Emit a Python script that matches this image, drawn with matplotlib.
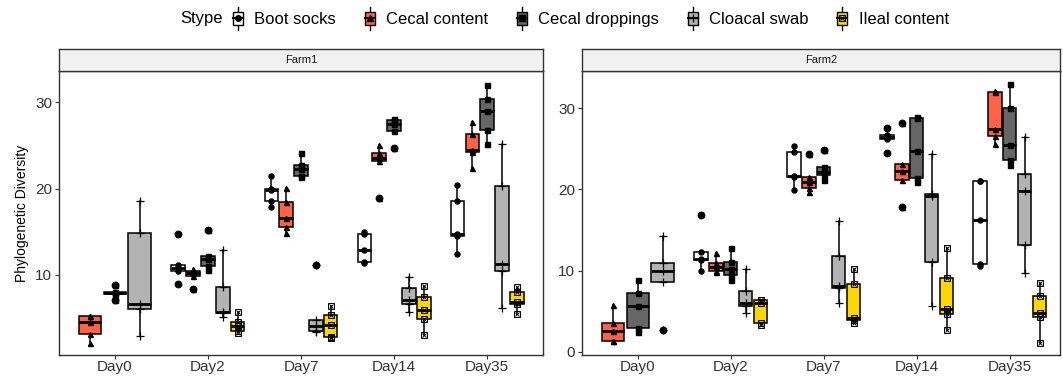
import matplotlib
matplotlib.use('Agg')
import matplotlib.pyplot as plt
from matplotlib.legend_handler import HandlerBase
from matplotlib.patches import Patch, Rectangle
from matplotlib.lines import Line2D

plt.rcParams['font.family'] = ['Liberation Sans', 'DejaVu Sans']

days = ['Day0', 'Day2', 'Day7', 'Day14', 'Day35']
stypes = ['Boot socks', 'Cecal content', 'Cecal droppings', 'Cloacal swab', 'Ileal content']
colors = ['white', '#FF6347', '#666666', '#B3B3B3', '#FFD700']
markers = ['o', '^', 's', '+', 'sx']

# Farm1 samples, one list per day (None = type not sampled that day)
f1_boot = [None, [8.9, 10.5, 10.85, 11.15, 14.7], [17.9, 18.6, 19.8, 19.95, 21.4],
           [11.35, 11.55, 12.85, 14.7, 14.95], [12.4, 14.55, 14.7, 18.6, 20.35]]
f1_cecal = [[2.1, 3.2, 4.6, 5.2, 5.3], [8.35, 9.9, 10.2, 10.5, 10.65], [14.8, 15.5, 16.6, 18.4, 20.05],
            [18.95, 23.2, 23.5, 24.1, 25.05], [22.35, 24.2, 24.4, 26.3, 27.75]]
f1_drop = [[7.1, 7.75, 7.9, 8.05, 8.85], [10.6, 11.0, 11.8, 12.2, 15.2], [21.3, 21.5, 22.2, 22.7, 24.1],
           [24.7, 26.7, 27.5, 27.9, 28.05], [25.2, 26.8, 29.0, 30.35, 32.0]]
f1_cloacal = [[2.9, 6.0, 6.6, 14.8, 18.6], [5.1, 5.63, 5.71, 8.64, 12.9], [3.4, 3.45, 4.1, 4.8, 11.1],
              [5.75, 6.6, 7.1, 8.45, 9.8], [6.15, 10.45, 11.3, 20.3, 25.1]]
f1_ileal = [None, [3.25, 3.5, 4.1, 4.6, 5.75], [2.75, 2.8, 4.2, 5.4, 6.35],
            [3.05, 4.85, 5.95, 7.5, 8.75], [5.45, 6.6, 6.9, 8.0, 8.65]]

# Farm2 samples
f2_boot = [None, [9.95, 11.3, 11.45, 12.3, 16.8], [19.95, 21.5, 21.7, 24.6, 25.4],
           [24.45, 26.2, 26.45, 26.7, 27.55], [10.6, 10.8, 16.2, 21.05, 21.1]]
f2_cecal = [[1.3, 1.35, 2.6, 3.5, 5.75], [9.85, 9.9, 10.5, 10.9, 12.2], [19.65, 20.2, 20.9, 21.5, 24.35],
            [17.8, 21.15, 22.25, 23.2, 28.15], [25.55, 26.6, 27.4, 32.0, 32.15]]
f2_drop = [[2.45, 2.9, 5.65, 7.2, 8.85], [8.9, 9.45, 10.15, 11.0, 12.75], [21.15, 21.8, 22.2, 22.8, 24.85],
           [20.9, 21.4, 24.75, 28.85, 28.95], [23.0, 23.65, 25.5, 30.1, 33.0]]
f2_cloacal = [[2.7, 8.55, 10.0, 10.95, 14.3], [4.8, 5.65, 6.0, 7.5, 10.2], [5.95, 7.9, 8.1, 11.85, 16.15],
              [5.65, 11.0, 19.25, 19.5, 24.4], [9.65, 13.15, 19.75, 21.9, 26.5]]
f2_ileal = [None, [3.35, 3.5, 6.05, 6.35, 6.4], [3.6, 3.9, 4.1, 8.35, 10.15],
            [2.7, 4.6, 5.25, 9.05, 12.8], [1.1, 4.3, 4.8, 6.85, 8.45]]

farm1 = [f1_boot, f1_cecal, f1_drop, f1_cloacal, f1_ileal]
farm2 = [f2_boot, f2_cecal, f2_drop, f2_cloacal, f2_ileal]


def draw_points(ax, xs, ys, marker, ms=3.6, zorder=4):
    if marker == 'sx':
        ax.plot(xs, ys, ls='none', marker='s', mfc='none', mec='black', ms=ms + 0.4, mew=0.7, zorder=zorder)
        ax.plot(xs, ys, ls='none', marker='x', color='black', ms=ms * 0.7, mew=0.7, zorder=zorder)
    elif marker == '+':
        ax.plot(xs, ys, ls='none', marker='+', color='black', ms=ms * 1.7, mew=0.9, zorder=zorder)
    else:
        ax.plot(xs, ys, ls='none', marker=marker, color='black', ms=ms, zorder=zorder)


def draw_panel(ax, groups):
    for d in range(len(days)):
        present = [(k, g[d]) for k, g in enumerate(groups) if g[d] is not None]
        n = len(present)
        step = 0.8 / n
        for i, (k, vals) in enumerate(present):
            x = d + (i - (n - 1) / 2) * step
            ax.boxplot([vals], positions=[x], widths=step * 0.9, patch_artist=True,
                       showcaps=False, manage_ticks=False, whis=1.5,
                       boxprops=dict(facecolor=colors[k], edgecolor='black', linewidth=1.1),
                       medianprops=dict(color='black', linewidth=2.0),
                       whiskerprops=dict(color='black', linewidth=1.1),
                       flierprops=dict(marker='o', markerfacecolor='black',
                                       markeredgecolor='black', markersize=4.6))
            draw_points(ax, [x] * len(vals), vals, markers[k])


class BoxKey(HandlerBase):
    def __init__(self, color, marker):
        super().__init__()
        self.color = color
        self.marker = marker

    def create_artists(self, legend, orig_handle, xdescent, ydescent, width, height, fontsize, trans):
        cx = -xdescent + width / 2
        y0 = -ydescent
        w = width * 0.75
        yc = y0 + height / 2
        arts = [Line2D([cx, cx], [y0 - height * 0.25, y0 + height * 1.25], color='black', lw=1, transform=trans),
                Rectangle((cx - w / 2, y0 + height * 0.05), w, height * 0.9, facecolor=self.color,
                          edgecolor='black', lw=1, transform=trans),
                Line2D([cx - w / 2, cx + w / 2], [yc, yc], color='black', lw=1.5, transform=trans)]
        if self.marker == 'sx':
            arts.append(Line2D([cx], [yc], marker='s', mfc='none', mec='black', ms=4, mew=0.8, transform=trans))
            arts.append(Line2D([cx], [yc], marker='x', color='black', ms=3, mew=0.8, transform=trans))
        elif self.marker == '+':
            arts.append(Line2D([cx], [yc], marker='+', color='black', ms=6, mew=0.9, transform=trans))
        else:
            arts.append(Line2D([cx], [yc], marker=self.marker, color='black', ms=4, transform=trans))
        return arts


W, H = 1063, 376
fig = plt.figure(figsize=(W / 100, H / 100), dpi=100)


def frac(l, r, t, b):
    return [l / W, 1 - b / H, (r - l) / W, (b - t) / H]


ax1 = fig.add_axes(frac(59, 543, 71, 355))
ax2 = fig.add_axes(frac(582, 1060, 71, 355))
s1 = fig.add_axes(frac(59, 543, 49, 71))
s2 = fig.add_axes(frac(582, 1060, 49, 71))

draw_panel(ax1, farm1)
draw_panel(ax2, farm2)

ax1.set_xlim(-0.6, 4.6)
ax2.set_xlim(-0.6, 4.54)
ax1.set_ylim(0.73, 33.6)
ax2.set_ylim(-0.4, 34.6)
ax1.set_yticks([10, 20, 30])
ax2.set_yticks([0, 10, 20, 30])

for ax in (ax1, ax2):
    ax.set_xticks(range(len(days)))
    ax.set_xticklabels(days)
    ax.tick_params(axis='both', length=3, width=0.8, color='#333333', labelsize=11,
                   labelcolor='#333333', pad=2)
    ax.tick_params(axis='x', pad=0.5)
    for sp in ax.spines.values():
        sp.set_color('#333333')
        sp.set_linewidth(1.0)

ax1.set_ylabel('Phylogenetic Diversity', fontsize=10, labelpad=4)

for s, name in ((s1, 'Farm1'), (s2, 'Farm2')):
    s.set_facecolor('#F2F2F2')
    s.set_xticks([])
    s.set_yticks([])
    for sp in s.spines.values():
        sp.set_color('#333333')
        sp.set_linewidth(1.0)
    s.text(0.5, 0.5, name, ha='center', va='center', fontsize=8, color='#1A1A1A', transform=s.transAxes)

handles = [Patch(facecolor=c) for c in colors]
hmap = {h: BoxKey(c, m) for h, c, m in zip(handles, colors, markers)}
fig.legend(handles, stypes, handler_map=hmap, loc='center', bbox_to_anchor=(590 / W, 1 - 19 / H),
           ncol=5, frameon=False, fontsize=12, handlelength=0.8, handleheight=1.0,
           handletextpad=0.6, columnspacing=1.6, borderpad=0)
fig.text(180 / W, 1 - 19 / H, 'Stype', ha='left', va='center', fontsize=12)

fig.savefig('out.png', dpi=100)
